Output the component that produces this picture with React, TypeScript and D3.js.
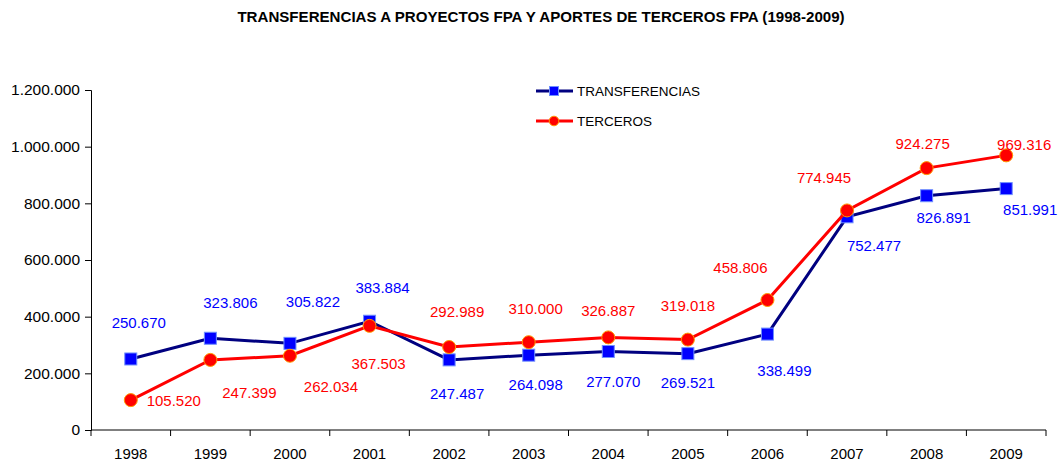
import { useEffect, useRef } from "react";
import * as d3 from "d3";

// chart data
const years = ["1998", "1999", "2000", "2001", "2002", "2003", "2004", "2005", "2006", "2007", "2008", "2009"];
const transferencias = [250670, 323806, 305822, 383884, 247487, 264098, 277070, 269521, 338499, 752477, 826891, 851991];
const terceros = [105520, 247399, 262034, 367503, 292989, 310000, 326887, 319018, 458806, 774945, 924275, 969316];
const yTicks = [0, 200000, 400000, 600000, 800000, 1000000, 1200000];

// where each data label sits relative to its point (moved by hand in the original)
const transLabelNudge = [[8, -36], [20, -36], [23, -42], [13, -33], [8, 34], [7, 30], [5, 30], [0, 29], [17, 37], [27, 29], [17, 22], [24, 21]];
const tercLabelNudge = [[43, 1], [39, 33], [41, 31], [9, 38], [8, -35], [7, -33], [0, -27], [0, -34], [-27, -32], [-23, -33], [-4, -24], [18, -11]];

const FONT = "'Liberation Sans', Arial, sans-serif";

const App = () => {
  const svgRef = useRef<SVGSVGElement | null>(null);

  useEffect(() => {
    const svg = d3.select(svgRef.current);
    svg.selectAll("*").remove();

    const width = 1060;
    const height = 462;
    const margin = { top: 90, right: 14, bottom: 32, left: 91 };

    const fmt = d3.formatLocale({ decimal: ",", thousands: ".", grouping: [3], currency: ["", ""] }).format(",d");

    svg.append("rect").attr("width", width).attr("height", height).attr("fill", "#fff");

    // title
    svg
      .append("text")
      .attr("x", 541)
      .attr("y", 22)
      .attr("text-anchor", "middle")
      .attr("font-family", FONT)
      .attr("font-weight", "bold")
      .attr("font-size", 15.1)
      .text("TRANSFERENCIAS A PROYECTOS FPA Y APORTES DE TERCEROS FPA (1998-2009)");

    const x = d3
      .scaleBand()
      .domain(years)
      .range([margin.left, width - margin.right])
      .paddingInner(0)
      .paddingOuter(0);

    const y = d3
      .scaleLinear()
      .domain([0, 1200000])
      .range([height - margin.bottom, margin.top]);

    const cx = (i: number) => (x(years[i]) as number) + x.bandwidth() / 2;

    // y axis
    const yAxis = svg
      .append("g")
      .attr("transform", `translate(${margin.left},0)`)
      .call(d3.axisLeft(y).tickValues(yTicks).tickSize(6).tickPadding(5).tickFormat((d) => fmt(d as number)));
    yAxis.select(".domain").attr("stroke", "#000");
    yAxis.selectAll("line").attr("stroke", "#000");
    yAxis
      .selectAll("text")
      .attr("font-family", FONT)
      .attr("font-size", 15.5)
      .attr("fill", "#000");

    // x axis, ticks at category boundaries
    const xAxis = svg.append("g").attr("transform", `translate(0,${y(0)})`);
    xAxis
      .append("line")
      .attr("x1", margin.left)
      .attr("x2", width - margin.right)
      .attr("stroke", "#000");
    xAxis
      .selectAll("line.tick")
      .data(years.concat(["end"]))
      .enter()
      .append("line")
      .attr("class", "tick")
      .attr("x1", (d, i) => margin.left + i * x.bandwidth())
      .attr("x2", (d, i) => margin.left + i * x.bandwidth())
      .attr("y1", 0)
      .attr("y2", 6)
      .attr("stroke", "#000");
    xAxis
      .selectAll("text")
      .data(years)
      .enter()
      .append("text")
      .attr("x", (d, i) => cx(i))
      .attr("y", 29)
      .attr("text-anchor", "middle")
      .attr("font-family", FONT)
      .attr("font-size", 15)
      .text((d) => d);

    const line = d3
      .line<number>()
      .x((d, i) => cx(i))
      .y((d) => y(d));

    // blue series first, red one drawn over it
    svg
      .append("path")
      .datum(transferencias)
      .attr("d", line)
      .attr("fill", "none")
      .attr("stroke", "#000080")
      .attr("stroke-width", 3);

    svg
      .selectAll("rect.trans")
      .data(transferencias)
      .enter()
      .append("rect")
      .attr("class", "trans")
      .attr("x", (d, i) => cx(i) - 6)
      .attr("y", (d) => y(d) - 6)
      .attr("width", 12)
      .attr("height", 12)
      .attr("fill", "#0000ff")
      .attr("stroke", "#6f8fff")
      .attr("stroke-width", 1);

    svg
      .append("path")
      .datum(terceros)
      .attr("d", line)
      .attr("fill", "none")
      .attr("stroke", "#ff0000")
      .attr("stroke-width", 3);

    svg
      .selectAll("circle.terc")
      .data(terceros)
      .enter()
      .append("circle")
      .attr("class", "terc")
      .attr("cx", (d, i) => cx(i))
      .attr("cy", (d) => y(d))
      .attr("r", 6.5)
      .attr("fill", "#ff0000")
      .attr("stroke", "#ff9900")
      .attr("stroke-width", 1);

    // data labels
    svg
      .selectAll("text.tlab")
      .data(transferencias)
      .enter()
      .append("text")
      .attr("class", "tlab")
      .attr("x", (d, i) => cx(i) + transLabelNudge[i][0])
      .attr("y", (d, i) => y(d) + transLabelNudge[i][1])
      .attr("dy", "0.35em")
      .attr("text-anchor", "middle")
      .attr("font-family", FONT)
      .attr("font-size", 15)
      .attr("fill", "#0000ff")
      .text((d) => fmt(d));

    svg
      .selectAll("text.rlab")
      .data(terceros)
      .enter()
      .append("text")
      .attr("class", "rlab")
      .attr("x", (d, i) => cx(i) + tercLabelNudge[i][0])
      .attr("y", (d, i) => y(d) + tercLabelNudge[i][1])
      .attr("dy", "0.35em")
      .attr("text-anchor", "middle")
      .attr("font-family", FONT)
      .attr("font-size", 15)
      .attr("fill", "#ff0000")
      .text((d) => fmt(d));

    // legend
    const legend = svg.append("g").attr("transform", "translate(536,91)");
    const items = [
      { name: "TRANSFERENCIAS", stroke: "#000080" },
      { name: "TERCEROS", stroke: "#ff0000" },
    ];
    items.forEach((it, i) => {
      const g = legend.append("g").attr("transform", `translate(0,${i * 30})`);
      g.append("line").attr("x1", 0).attr("x2", 37).attr("stroke", it.stroke).attr("stroke-width", 3);
      if (i === 0) {
        g.append("rect")
          .attr("x", 13.5)
          .attr("y", -4.5)
          .attr("width", 9)
          .attr("height", 9)
          .attr("fill", "#0000ff")
          .attr("stroke", "#6f8fff");
      } else {
        g.append("circle").attr("cx", 18).attr("r", 4.8).attr("fill", "#ff0000").attr("stroke", "#ff9900");
      }
      g.append("text")
        .attr("x", 41)
        .attr("dy", "0.35em")
        .attr("font-family", FONT)
        .attr("font-size", 13.5)
        .text(it.name);
    });
  }, []);

  return (
    <svg
      ref={svgRef}
      width={1060}
      height={462}
      style={{ position: "absolute", left: 0, top: 0, display: "block" }}
    />
  );
};

export default App;
